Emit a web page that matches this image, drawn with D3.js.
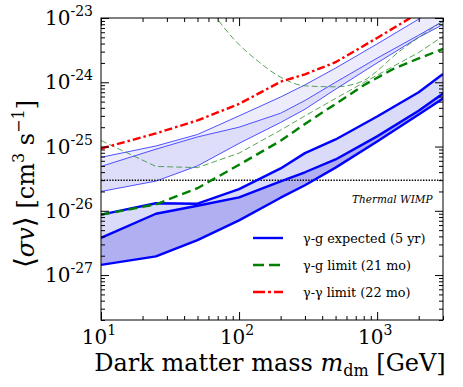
<!DOCTYPE html>
<html>
<head>
<meta charset="utf-8">
<script src="https://cdn.jsdelivr.net/npm/d3@7"></script>
<style>
  body { margin: 0; background: #fff; }
  svg { display: block; font-family: "DejaVu Serif", serif; }
</style>
</head>
<body>
<svg id="chart" width="463" height="387"></svg>
<script>
// dark matter mass [GeV] and <sigma v> [cm^3 s^-1]
const masses = [10, 25, 50, 100, 200, 300, 500, 1000, 2000, 3000];

// gamma-g expected (5 yr): thick band
const expUpper  = [8.7e-27, 1.31e-26, 1.29e-26, 2.17e-26, 4.57e-26, 7.9e-26, 1.29e-25, 2.93e-25, 7.0e-25, 1.35e-24];
const expMiddle = [3.8e-27, 9.0e-27, 1.2e-26, 1.62e-26, 2.88e-26, 3.98e-26, 6.3e-26, 1.44e-25, 3.6e-25, 6.7e-25];
const expLower  = [1.44e-27, 1.95e-27, 3.5e-27, 7.1e-27, 1.6e-26, 2.5e-26, 4.7e-26, 1.2e-25, 3.16e-25, 5.6e-25];

// thin band
const thinUpper  = [6.8e-26, 1.02e-25, 1.54e-25, 3.0e-25, 5.9e-25, 9.1e-25, 1.66e-24, 3.95e-24, 9.6e-24, 1.7e-23];
const thinMiddle = [4.9e-26, 9.1e-26, 1.41e-25, 2.0e-25, 3.3e-25, 5.2e-25, 1.0e-24, 2.37e-24, 5.4e-24, 8.9e-24];
const thinLower  = [2.0e-26, 2.9e-26, 5.0e-26, 1.12e-25, 2.37e-25, 3.8e-25, 7.8e-25, 2.0e-24, 5.0e-24, 7.9e-24];

// gamma-g limit (21 mo)
const limitMasses = [10, 25, 50, 100, 200, 300, 500, 800, 1300, 2000, 3000];
const limit21mo   = [8.7e-27, 1.26e-26, 2.25e-26, 5.2e-26, 1.23e-25, 2.24e-25, 4.6e-25, 9.0e-25, 1.6e-24, 2.35e-24, 3.3e-24];

// thin dashed green curves
const thinLimitA = [1.24e-25, 4.9e-26, 4.7e-26, 7.9e-26, 1.8e-25, 3.0e-25, 5.6e-25, 1.29e-24, 2.9e-24, 5.2e-24];
const uMasses    = [65, 90, 140, 200, 300, 500, 750, 1500, 3000];
const thinLimitB = [1.17e-23, 4.9e-24, 2.05e-24, 1.2e-24, 8.8e-25, 8.5e-25, 1.0e-24, 3.2e-24, 9.0e-24];

// gamma-gamma limit (22 mo)
const ggMasses = [10, 25, 50, 100, 200, 300, 500, 1000, 2000];
const ggLimit  = [9.3e-26, 1.6e-25, 2.55e-25, 4.6e-25, 1.02e-24, 1.33e-24, 2.05e-24, 4.9e-24, 1.2e-23];

const thermalWimp = 3e-26;

const yMajor = [1e-27, 1e-26, 1e-25, 1e-24, 1e-23];
const yExp = ["-27", "-26", "-25", "-24", "-23"];
const xMajor = [10, 100, 1000];
const xExp = ["1", "2", "3"];
const legendLabels = ["γ-g expected (5 yr)", "γ-g limit (21 mo)", "γ-γ limit (22 mo)"];

const svg = d3.select("#chart");
const mLeft = 101, mRight = 443, mTop = 18, mBottom = 320;

const x = d3.scaleLog().domain([10, 3000]).range([mLeft, mRight]);
const y = d3.scaleLog().domain([2e-28, 1e-23]).range([mBottom, mTop]);

svg.append("clipPath").attr("id", "plotclip")
  .append("rect").attr("x", mLeft).attr("y", mTop)
  .attr("width", mRight - mLeft).attr("height", mBottom - mTop);

const plot = svg.append("g").attr("clip-path", "url(#plotclip)");

function band(xs, hi, lo) {
  return d3.area()
    .x((d, i) => x(xs[i]))
    .y0((d, i) => y(lo[i]))
    .y1((d, i) => y(hi[i]))(xs);
}
function curve(xs, ys, c) {
  return d3.line()
    .x((d, i) => x(xs[i]))
    .y((d, i) => y(ys[i]))
    .curve(c || d3.curveLinear)(xs);
}

// fills
plot.append("path").attr("d", band(masses, thinUpper, thinMiddle)).attr("fill", "#ececfd");
plot.append("path").attr("d", band(masses, thinMiddle, thinLower)).attr("fill", "#dedefa");
plot.append("path").attr("d", band(masses, expUpper, expMiddle)).attr("fill", "#dadaf9");
plot.append("path").attr("d", band(masses, expMiddle, expLower)).attr("fill", "#afaff1");

// thin blue lines
[thinUpper, thinMiddle, thinLower].forEach(s => {
  plot.append("path").attr("d", curve(masses, s))
    .attr("fill", "none").attr("stroke", "#3c3cff").attr("stroke-width", 0.9);
});

// thermal wimp
plot.append("line")
  .attr("x1", x(10)).attr("x2", x(3000))
  .attr("y1", y(thermalWimp)).attr("y2", y(thermalWimp))
  .attr("stroke", "#000").attr("stroke-width", 1.5)
  .attr("stroke-dasharray", "1.4,1.4");

// thin green dashed
plot.append("path").attr("d", curve(masses, thinLimitA))
  .attr("fill", "none").attr("stroke", "#2e8b2e").attr("stroke-width", 0.8)
  .attr("stroke-dasharray", "6,3");
plot.append("path").attr("d", curve(uMasses, thinLimitB, d3.curveMonotoneX))
  .attr("fill", "none").attr("stroke", "#2e8b2e").attr("stroke-width", 0.8)
  .attr("stroke-dasharray", "6,3");

// thick blue
[expUpper, expMiddle, expLower].forEach(s => {
  plot.append("path").attr("d", curve(masses, s))
    .attr("fill", "none").attr("stroke", "#0000ff").attr("stroke-width", 2.4)
    .attr("stroke-linejoin", "round");
});

// green limit
plot.append("path").attr("d", curve(limitMasses, limit21mo))
  .attr("fill", "none").attr("stroke", "#008000").attr("stroke-width", 2.4)
  .attr("stroke-dasharray", "9,5");

// red gamma-gamma
plot.append("path").attr("d", curve(ggMasses, ggLimit))
  .attr("fill", "none").attr("stroke", "#ff0000").attr("stroke-width", 2.4)
  .attr("stroke-dasharray", "8,3,2.5,3");

plot.append("text")
  .attr("x", 352).attr("y", 203)
  .attr("font-size", 10.5).attr("font-style", "italic")
  .text("Thermal WIMP");

// frame and ticks
const yMinor = [];
[1e-28, 1e-27, 1e-26, 1e-25, 1e-24].forEach(b => {
  for (let k = 2; k <= 9; k++) { const v = b * k; if (v >= 2e-28 && v < 1e-23) yMinor.push(v); }
});
const xMinor = [];
[10, 100, 1000].forEach(b => {
  for (let k = 2; k <= 9; k++) { const v = b * k; if (v <= 3000) xMinor.push(v); }
});

function ticks(axis, pos, vals, len) {
  svg.append("g").attr("transform", pos)
    .call(axis.tickValues(vals).tickSize(-len).tickFormat(""))
    .call(g => g.select(".domain").remove())
    .selectAll("line").attr("stroke", "#000");
}
ticks(d3.axisLeft(y), `translate(${mLeft},0)`, yMajor, 8);
ticks(d3.axisLeft(y), `translate(${mLeft},0)`, yMinor, 4);
ticks(d3.axisRight(y), `translate(${mRight},0)`, yMajor, 8);
ticks(d3.axisRight(y), `translate(${mRight},0)`, yMinor, 4);
ticks(d3.axisBottom(x), `translate(0,${mBottom})`, xMajor, 8);
ticks(d3.axisBottom(x), `translate(0,${mBottom})`, xMinor, 4);
ticks(d3.axisTop(x), `translate(0,${mTop})`, xMajor, 8);
ticks(d3.axisTop(x), `translate(0,${mTop})`, xMinor, 4);

svg.append("rect")
  .attr("x", mLeft).attr("y", mTop)
  .attr("width", mRight - mLeft).attr("height", mBottom - mTop)
  .attr("fill", "none").attr("stroke", "#000").attr("stroke-width", 1);

// tick labels
yMajor.forEach((v, i) => {
  const t = svg.append("text")
    .attr("x", 93).attr("y", y(v) + 7)
    .attr("text-anchor", "end").attr("font-size", 20);
  t.append("tspan").text("10");
  t.append("tspan").attr("font-size", 14).attr("dy", -9).text(yExp[i]);
});
xMajor.forEach((v, i) => {
  const t = svg.append("text")
    .attr("x", x(v) - 2).attr("y", 344)
    .attr("text-anchor", "middle").attr("font-size", 20);
  t.append("tspan").text("10");
  t.append("tspan").attr("font-size", 14).attr("dy", -9).text(xExp[i]);
});

// axis titles
const xt = svg.append("text")
  .attr("x", 270).attr("y", 371)
  .attr("text-anchor", "middle").attr("font-size", 24);
xt.append("tspan").text("Dark matter mass ");
xt.append("tspan").attr("font-style", "italic").text("m");
xt.append("tspan").attr("font-size", 16).attr("dy", 5).text("dm");
xt.append("tspan").attr("dy", -5).text(" [GeV]");

const yt = svg.append("text")
  .attr("transform", "translate(34,184) rotate(-90)")
  .attr("text-anchor", "middle").attr("font-size", 24);
yt.append("tspan").attr("font-size", 28).text("⟨");
yt.append("tspan").attr("font-style", "italic").text("σv");
yt.append("tspan").attr("font-size", 28).text("⟩");
yt.append("tspan").text("   [cm");
yt.append("tspan").attr("font-size", 16).attr("dy", -10).text("3");
yt.append("tspan").attr("dy", 10).text(" s");
yt.append("tspan").attr("font-size", 16).attr("dy", -10).text("−1");
yt.append("tspan").attr("dy", 10).text("]");

// legend
const legendStyles = [
  { stroke: "#0000ff", dash: null },
  { stroke: "#008000", dash: "11,5" },
  { stroke: "#ff0000", dash: "12,3,3,3" }
];
legendLabels.forEach((lab, i) => {
  const ly = 238 + i * 27;
  svg.append("line")
    .attr("x1", 253).attr("x2", 283).attr("y1", ly).attr("y2", ly)
    .attr("stroke", legendStyles[i].stroke).attr("stroke-width", 2.4)
    .attr("stroke-dasharray", legendStyles[i].dash);
  svg.append("text")
    .attr("x", 303).attr("y", ly + 4.5)
    .attr("font-size", 12.8).text(lab);
});
</script>
</body>
</html>
